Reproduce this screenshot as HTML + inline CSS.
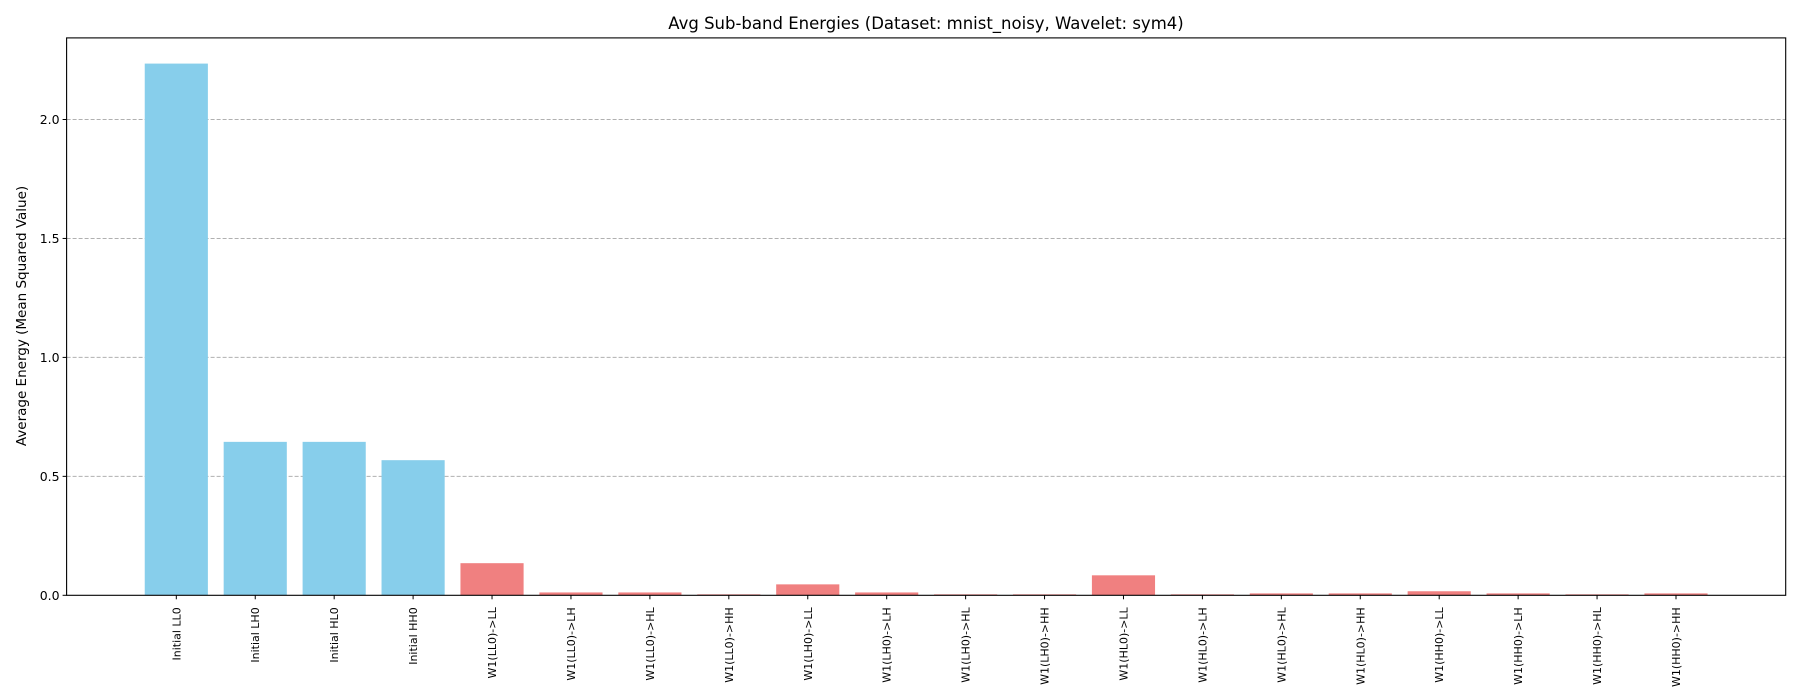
<!DOCTYPE html>
<html><head><meta charset="utf-8"><style>
html,body{margin:0;padding:0;background:#fff;}
svg{display:block;font-family:"DejaVu Sans","Liberation Sans",sans-serif;}
</style></head><body>
<svg id="chart" width="1800" height="700" xmlns="http://www.w3.org/2000/svg">
<text x="926" y="29" text-anchor="middle" font-size="16.5">Avg Sub-band Energies (Dataset: mnist_noisy, Wavelet: sym4)</text>
<text transform="translate(26,316) rotate(-90)" text-anchor="middle" font-size="13.5">Average Energy (Mean Squared Value)</text>
<g id="grid"></g>
<g id="bars"></g>
<g id="yticks"></g>
<g id="xticks"></g>
<rect x="66.6" y="37.9" width="1719.1" height="557.4" fill="none" stroke="#000" stroke-width="1.1"/>
</svg>
<script>
const categories = ["Initial LL0","Initial LH0","Initial HL0","Initial HH0","W1(LL0)->LL","W1(LL0)->LH","W1(LL0)->HL","W1(LL0)->HH","W1(LH0)->LL","W1(LH0)->LH","W1(LH0)->HL","W1(LH0)->HH","W1(HL0)->LL","W1(HL0)->LH","W1(HL0)->HL","W1(HL0)->HH","W1(HH0)->LL","W1(HH0)->LH","W1(HH0)->HL","W1(HH0)->HH"];
const energies = [2.235,0.645,0.645,0.568,0.135,0.012,0.012,0.004,0.046,0.012,0.004,0.004,0.084,0.004,0.008,0.008,0.017,0.008,0.004,0.008];
const barColors = ["#87ceeb","#87ceeb","#87ceeb","#87ceeb","#f08080","#f08080","#f08080","#f08080","#f08080","#f08080","#f08080","#f08080","#f08080","#f08080","#f08080","#f08080","#f08080","#f08080","#f08080","#f08080"];
const yTicks = [0,0.5,1,1.5,2];
const yTickLabels = ["0.0","0.5","1.0","1.5","2.0"];

const NS="http://www.w3.org/2000/svg";
const L=66.6,R=1785.7,T=37.9,B=595.3;
const yMax=2.343;
const xMin=-1.39,xMax=categories.length-1+1.39;
function x(i){return L+(i-xMin)/(xMax-xMin)*(R-L);}
function y(v){return B-v/yMax*(B-T);}
const bw=(x(0.8)-x(0));
function mk(tag,attrs,parent){const e=document.createElementNS(NS,tag);for(const k in attrs)e.setAttribute(k,attrs[k]);parent.appendChild(e);return e;}
const grid=document.getElementById('grid'),bars=document.getElementById('bars'),yt=document.getElementById('yticks'),xt=document.getElementById('xticks');
yTicks.forEach((v,i)=>{
  if(v>0){const g=mk('line',{x1:L,x2:R,y1:y(v),y2:y(v),stroke:'#b0b0b0','stroke-width':1,'stroke-dasharray':'4,2'},grid);
  
  }
  const t=mk('line',{x1:L-4,x2:L,y1:y(v),y2:y(v),stroke:'#000','stroke-width':1},yt);
  
  
  const lb=mk('text',{x:L-7,y:y(v)+4.5,'text-anchor':'end','font-size':'12.5'},yt);
  lb.textContent=yTickLabels[i];
  
  
});
categories.forEach((c,i)=>{
  const r=mk('rect',{x:x(i)-bw/2,y:y(energies[i]),width:bw,height:B-y(energies[i]),fill:barColors[i]},bars);
  
  
  const t=mk('line',{x1:x(i),x2:x(i),y1:B,y2:B+4,stroke:'#000','stroke-width':1},xt);
  
  
  const lb=mk('text',{transform:`translate(${x(i)+4},${B+12}) rotate(-90)`,'text-anchor':'end','font-size':'11'},xt);
  lb.textContent=c;
  
  
});
</script>
</body></html>
